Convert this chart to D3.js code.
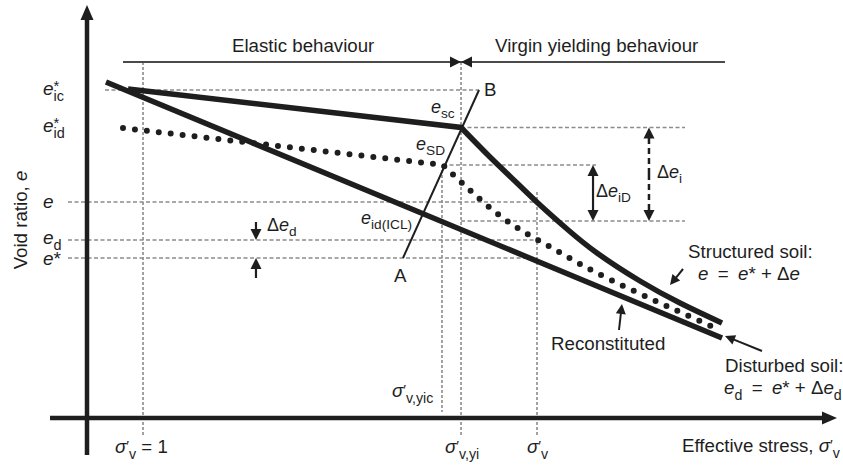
<!DOCTYPE html>
<html>
<head>
<meta charset="utf-8">
<script src="https://cdn.jsdelivr.net/npm/d3@7"></script>
<style>
  html, body { margin: 0; padding: 0; background: #fff; }
  svg { display: block; font-family: "Liberation Sans", Arial, sans-serif; }
</style>
</head>
<body>
<div id="chart"></div>
<script>
const W = 843, H = 466
const INK = '#1e1e1e'
const GUIDE = '#8c8c8c'
const FS = 18.7

// schematic units: x = log effective stress (0-100), y = void ratio (0-100)
const reconstitutedLine = [[2.53, 84], [84.67, 20]]
const structuredStraight = [[5.47, 82.25], [49.87, 72.63]]
const structuredCurve = [[49.87, 72.63], [53.73, 65.25], [57.33, 58.75], [60.4, 53.25], [64, 47.25], [68, 41.25], [73.73, 34.25], [79.07, 28.75], [84.67, 23.75]]
const disturbedStraight = [[4.8, 72.5], [47.47, 63.25]]
const disturbedCurve = [[47.47, 63.25], [49.87, 59], [53.6, 52.75], [57.6, 47.25], [62, 42.5], [67.73, 36.5], [76.4, 28.75], [84.4, 22]]
const lineAB = [[42.13, 40], [52.27, 82]]

// dashed guides: [x, yFrom, yTo] and [y, xFrom, xTo]
const guideVertical = [[7.47, 89, -4.75], [47.33, 63.25, 1.5], [49.87, 89, -4.75], [60, 56.5, -4.75]]
const guideHorizontal = [[82, 2.4, 52.27], [72.63, 49.87, 79.73], [63.25, 47.47, 67.87], [54, -2.53, 60], [49.25, 49.87, 79.73], [44.5, -2.53, 60], [40, -2.53, 60]]

// behaviour bracket: [y, xFrom, xYield, xTo]
const bracket = [89, 4.8, 49.87, 85.07]

// Δ arrows: [x, yFrom, yTip, dashed]
const deltaArrows = [
  [22.53, 49, 44.5, false], [22.53, 35, 40, false],
  [67.47, 56.25, 63.25, false], [67.47, 56.25, 49.25, false],
  [74.93, 61, 72.63, true], [74.93, 61, 49.25, true]
]
// pointer arrows: [xFrom, yFrom, xTip, yTip]
const pointerArrows = [[79.47, 37.25, 77.73, 33.25], [70.93, 22, 71.33, 28.5], [90, 16.75, 85.07, 20.5]]

const x = d3.scaleLinear().domain([0, 100]).range([87, 837])
const y = d3.scaleLinear().domain([0, 100]).range([418, 18])

const svg = d3.select('#chart').append('svg').attr('width', W).attr('height', H)

const line = d3.line().x(d => x(d[0])).y(d => y(d[1]))
const curve = d3.line().x(d => x(d[0])).y(d => y(d[1])).curve(d3.curveNatural)

// ── arrowhead helper (pixel space) ─────────────────────────────────────────
function head(tip, from, len, half) {
  const dx = tip[0] - from[0], dy = tip[1] - from[1]
  const n = Math.hypot(dx, dy), ux = dx / n, uy = dy / n
  const bx = tip[0] - ux * len, by = tip[1] - uy * len
  svg.append('path')
    .attr('d', `M${tip[0]},${tip[1]}L${bx - uy * half},${by + ux * half}L${bx + uy * half},${by - ux * half}Z`)
    .attr('fill', INK)
  return [bx + ux * 1, by + uy * 1]
}

// ── guides ─────────────────────────────────────────────────────────────────
guideVertical.forEach(([gx, y0, y1]) => {
  svg.append('line').attr('x1', x(gx)).attr('x2', x(gx)).attr('y1', y(y0)).attr('y2', y(y1))
    .attr('stroke', GUIDE).attr('stroke-width', 1.6).attr('stroke-dasharray', '3,2')
})
guideHorizontal.forEach(([gy, x0, x1]) => {
  svg.append('line').attr('x1', x(x0)).attr('x2', x(x1)).attr('y1', y(gy)).attr('y2', y(gy))
    .attr('stroke', GUIDE).attr('stroke-width', 1.6).attr('stroke-dasharray', '4,2.5')
})

// ── axes ───────────────────────────────────────────────────────────────────
const yBase = head([x(0), y(103.25)], [x(0), y(0)], 15, 6.5)
svg.append('line').attr('x1', x(0)).attr('x2', x(0)).attr('y1', y(-9.25)).attr('y2', yBase[1])
  .attr('stroke', INK).attr('stroke-width', 4.5)
const xBase = head([x(100), y(0)], [x(0), y(0)], 15, 6.5)
svg.append('line').attr('x1', x(-4.93)).attr('x2', xBase[0]).attr('y1', y(0)).attr('y2', y(0))
  .attr('stroke', INK).attr('stroke-width', 4.5)

// ── bracket ────────────────────────────────────────────────────────────────
const [by, bx0, bxm, bx1] = bracket
svg.append('line').attr('x1', x(bx0)).attr('x2', x(bx1)).attr('y1', y(by)).attr('y2', y(by))
  .attr('stroke', '#4a4a4a').attr('stroke-width', 2.2)
head([x(bxm), y(by)], [x(bx0), y(by)], 11, 5.5)
head([x(bxm), y(by)], [x(bx1), y(by)], 11, 5.5)

// ── curves ─────────────────────────────────────────────────────────────────
svg.append('path').attr('d', line(reconstitutedLine))
  .attr('fill', 'none').attr('stroke', INK).attr('stroke-width', 5.5).attr('stroke-linecap', 'butt')

svg.append('path').attr('d', line(structuredStraight) + curve(structuredCurve).replace(/^M/, 'L'))
  .attr('fill', 'none').attr('stroke', INK).attr('stroke-width', 5.5).attr('stroke-linejoin', 'miter')

svg.append('path').attr('d', line(disturbedStraight) + curve(disturbedCurve).replace(/^M/, 'L'))
  .attr('fill', 'none').attr('stroke', INK).attr('stroke-width', 6)
  .attr('stroke-linecap', 'round').attr('stroke-dasharray', '0,12')

svg.append('path').attr('d', line(lineAB))
  .attr('fill', 'none').attr('stroke', INK).attr('stroke-width', 2)

// ── arrows ─────────────────────────────────────────────────────────────────
deltaArrows.forEach(([ax, y0, y1, dashed]) => {
  const tip = [x(ax), y(y1)], from = [x(ax), y(y0)]
  const base = head(tip, from, 11, 5.5)
  svg.append('line').attr('x1', from[0]).attr('y1', from[1]).attr('x2', base[0]).attr('y2', base[1])
    .attr('stroke', INK).attr('stroke-width', dashed ? 2.5 : 2.2)
    .attr('stroke-dasharray', dashed ? '6,4' : null)
})
pointerArrows.forEach(([x0, y0, x1, y1]) => {
  const tip = [x(x1), y(y1)], from = [x(x0), y(y0)]
  const base = head(tip, from, 10, 5)
  svg.append('line').attr('x1', from[0]).attr('y1', from[1]).attr('x2', base[0]).attr('y2', base[1])
    .attr('stroke', INK).attr('stroke-width', 2)
})

// ── text ───────────────────────────────────────────────────────────────────
function mathLabel(px, py, parts, size = 18, anchor = 'start', parent = svg) {
  const t = parent.append('text').attr('x', px).attr('y', py)
    .attr('font-size', size).attr('fill', INK).attr('text-anchor', anchor)
  let shift = 0, prev = null
  parts.forEach(p => {
    const target = p.sub ? size * 0.3 : p.sup ? -(p.up ?? size * 0.25) : 0
    const s = t.append('tspan').text(p.t)
      .attr('dy', target - shift)
      .attr('font-size', p.sub ? size * 0.76 : p.sup ? size * 0.78 : size)
      .attr('font-style', p.i ? 'italic' : 'normal')
    if (p.under && prev) s.attr('dx', -prev.node().getComputedTextLength())
    else if (p.dx) s.attr('dx', p.dx)
    shift = target
    prev = s
  })
  return t
}
const txt = (px, py, s, size = FS) => svg.append('text').attr('x', px).attr('y', py)
  .attr('font-size', size).attr('fill', INK).text(s)

txt(232, 52, 'Elastic behaviour')
txt(495, 52, 'Virgin yielding behaviour')

// y-axis labels
mathLabel(43, 95, [{ t: 'e', i: true }, { t: '*', sup: true, up: 4 }, { t: 'ic', sub: true, under: true }], 19)
mathLabel(43, 132, [{ t: 'e', i: true }, { t: '*', sup: true, up: 4 }, { t: 'id', sub: true, under: true }], 19)
mathLabel(43, 208, [{ t: 'e', i: true }], 19)
mathLabel(43, 244, [{ t: 'e', i: true }, { t: 'd', sub: true }], 19)
mathLabel(43, 265, [{ t: 'e', i: true }, { t: '*' }], 19)

const yl = svg.append('g').attr('transform', 'translate(27,220) rotate(-90)')
mathLabel(0, 0, [{ t: 'Void ratio, ' }, { t: 'e', i: true }], FS, 'middle', yl)

// in-plot labels
mathLabel(431, 113, [{ t: 'e', i: true }, { t: 'sc', sub: true }])
mathLabel(416, 150, [{ t: 'e', i: true }, { t: 'SD', sub: true }])
mathLabel(361, 224, [{ t: 'e', i: true }, { t: 'id(ICL)', sub: true }])
txt(394, 282, 'A')
txt(484, 96, 'B')
mathLabel(267, 231, [{ t: 'Δ' }, { t: 'e', i: true }, { t: 'd', sub: true }])
mathLabel(596, 197, [{ t: 'Δ' }, { t: 'e', i: true }, { t: 'iD', sub: true }])
mathLabel(657, 178, [{ t: 'Δ' }, { t: 'e', i: true }, { t: 'i', sub: true }])

const EQ = '\u2002=\u2002'
txt(688, 258, 'Structured soil:')
mathLabel(698, 280, [{ t: 'e', i: true }, { t: EQ }, { t: 'e', i: true }, { t: '*' }, { t: ' + Δ' }, { t: 'e', i: true }], FS)
txt(551, 350, 'Reconstituted')
txt(725, 372, 'Disturbed soil:')
mathLabel(724, 394, [{ t: 'e', i: true }, { t: 'd', sub: true }, { t: EQ }, { t: 'e', i: true }, { t: '*' }, { t: ' + Δ' }, { t: 'e', i: true }, { t: 'd', sub: true }], FS)

// x-axis labels
const sig = sub => [{ t: 'σ', i: true }, { t: '′', sup: true, up: 2 }, { t: sub, sub: true }]
mathLabel(682, 452, [{ t: 'Effective stress, ' }, ...sig('v')], FS)
mathLabel(115, 453, [...sig('v'), { t: ' = 1' }], FS)
mathLabel(392, 397, sig('v,yic'), FS)
mathLabel(445, 453, sig('v,yi'), FS)
mathLabel(527, 453, sig('v'), FS)
</script>
</body>
</html>
